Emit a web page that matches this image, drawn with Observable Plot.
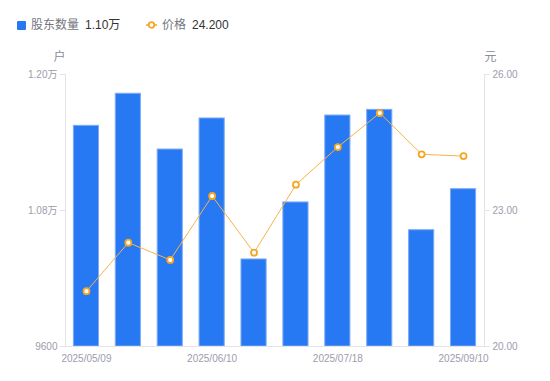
<!DOCTYPE html>
<html><head><meta charset="utf-8">
<script src="https://cdn.jsdelivr.net/npm/d3@7"></script>
<script src="https://cdn.jsdelivr.net/npm/@observablehq/plot@0.6"></script>
<style>
body{margin:0;background:#fff;font-family:"Liberation Sans","Noto Sans CJK SC",sans-serif;}
#legend{height:40px;position:relative;font-size:12px;}
#legend .it{position:absolute;top:17px;line-height:16px;white-space:nowrap;}
#legend .sq{display:inline-block;width:9px;height:9px;background:#2679f2;border-radius:1px;vertical-align:-1px;}
#legend .lab{color:#757580;}
#legend .val{color:#333;}
#chart{height:341px;}
</style></head><body>
<div id="legend">
  <span class="it" style="left:17px"><span class="sq"></span></span>
  <span class="it lab" style="left:31px">股东数量</span>
  <span class="it val" style="left:85px">1.10万</span>
  <span class="it" style="left:146px"><svg width="11" height="16" style="vertical-align:top"><line x1="0" x2="11" y1="8" y2="8" stroke="#f5a623" stroke-width="1.5"/><circle cx="5.5" cy="8" r="2.8" fill="#fff" stroke="#f5a623" stroke-width="1.8"/></svg></span>
  <span class="it lab" style="left:162px">价格</span>
  <span class="it val" style="left:192px">24.200</span>
</div>
<div id="chart"></div>
<script>
const dates = ["2025/05/09","2025/05/20","2025/05/30","2025/06/10","2025/06/20","2025/06/30","2025/07/18","2025/07/31","2025/08/20","2025/09/10"];
const holders = [11547,11830,11338,11612,10368,10871,11638,11688,10626,10988];
const prices = [21.22,22.29,21.91,23.32,22.07,23.57,24.40,25.15,24.24,24.20];
const tickDates = ["2025/05/09","2025/06/10","2025/07/18","2025/09/10"];
const holderTicks = [9600,10800,12000];
const priceTicks = [20,23,26];

const data = dates.map((d,i)=>({date:d, holders:holders[i], price:prices[i]}));
const toY = d3.scaleLinear([20,26],[9600,12000]);
const axisGray = "#e3e3e8";
const textGray = "#9c9cab";

const chart = Plot.plot({
  width: 550, height: 341,
  marginTop: 34, marginBottom: 35, marginLeft: 65, marginRight: 66,
  style: {fontFamily: '"Liberation Sans","Noto Sans CJK SC",sans-serif', fontSize: "10px", background: "#fff"},
  x: {type: "band", domain: dates, paddingInner: 0.4, paddingOuter: 0.2, round: false, axis: null},
  y: {domain: [9600,12000], axis: null},
  marks: [
    Plot.frame({anchor: "left", stroke: axisGray}),
    Plot.frame({anchor: "right", stroke: axisGray}),
    Plot.barY(data, {x: "date", y1: 9600, y2: "holders", fill: "#2679f2", stroke: "#7eaaf6", strokeWidth: 1}),
    Plot.ruleY([9600], {stroke: axisGray}),
    Plot.line(data, {x: "date", y: d => toY(d.price), stroke: "#f7b347", strokeWidth: 1}),
    Plot.dot(data, {x: "date", y: d => toY(d.price), r: 3, fill: "#fff", stroke: "#f5a623", strokeWidth: 1.8}),
    Plot.axisY(holderTicks, {anchor: "left", tickSize: 5, tickPadding: 3, stroke: axisGray, fill: textGray, label: null,
      tickFormat: d => d >= 10000 ? (d/10000).toFixed(2) + "万" : String(d)}),
    Plot.axisY(priceTicks.map(toY), {anchor: "right", tickSize: 5, tickPadding: 3, stroke: axisGray, fill: textGray, label: null,
      tickFormat: d => toY.invert(d).toFixed(2)}),
    Plot.axisX(tickDates, {anchor: "bottom", tickSize: 0, tickPadding: 8, fill: textGray, label: null}),
    Plot.text(["户"], {frameAnchor: "top-left", text: d => d, textAnchor: "middle", dx: -6, dy: -17, fontSize: 12, fill: "#8c8c9a", lineAnchor: "middle"}),
    Plot.text(["元"], {frameAnchor: "top-right", text: d => d, textAnchor: "middle", dx: 6, dy: -17, fontSize: 12, fill: "#8c8c9a", lineAnchor: "middle"})
  ]
});
document.getElementById("chart").appendChild(chart);
</script>
</body></html>
